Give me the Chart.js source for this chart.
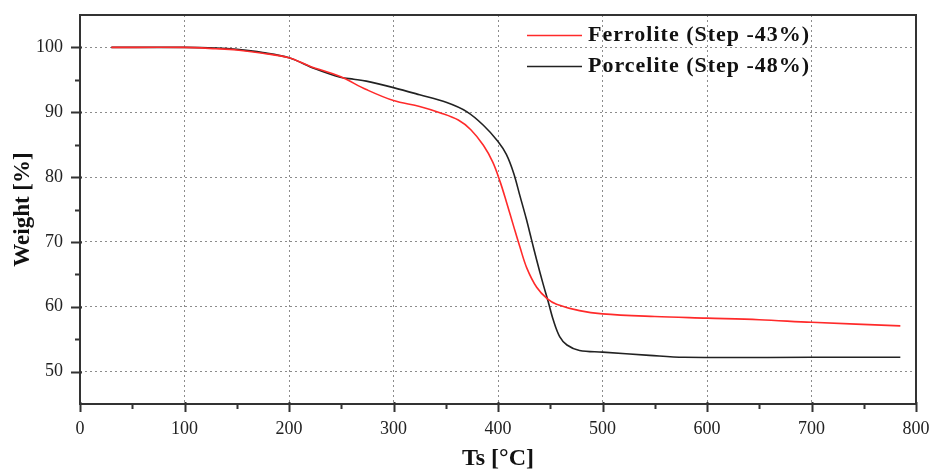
<!DOCTYPE html>
<html>
<head>
<meta charset="utf-8">
<script src="https://cdn.jsdelivr.net/npm/chart.js@4/dist/chart.umd.min.js"></script>
<style>
  html, body { margin: 0; padding: 0; background: #fff; }
  #wrap { width: 933px; height: 473px; position: relative; }
</style>
</head>
<body>
<div id="wrap"><canvas id="tgaChart"></canvas></div>
<script>
// temperature (°C) and weight (%)
const ferroliteTemp = [30, 100, 130, 150, 175, 200, 220, 249, 274, 300, 325, 345, 362, 374, 386, 395, 402, 408, 415, 421, 427.5, 437, 447, 456, 478, 500, 550, 600, 650, 700, 785];
const ferroliteWeight = [100, 100, 99.8, 99.6, 99.1, 98.4, 97.1, 95.5, 93.5, 91.8, 90.9, 89.9, 88.8, 87.3, 84.9, 82.3, 79.3, 76.2, 72.4, 69.2, 66.0, 63.0, 61.25, 60.4, 59.4, 58.9, 58.5, 58.25, 58.0, 57.6, 57.05];

const porceliteTemp = [30, 100, 130, 150, 175, 200, 225, 249, 262, 274, 300, 325, 351, 370, 386, 400, 408, 415, 421, 427, 432, 437, 443, 448, 453, 459, 466, 478, 500, 545, 578, 700, 785];
const porceliteWeight = [100, 100, 99.9, 99.7, 99.2, 98.4, 96.7, 95.4, 95.1, 94.8, 93.8, 92.7, 91.5, 90.1, 88.0, 85.5, 83.5, 80.6, 77.1, 73.6, 70.4, 67.2, 63.6, 60.8, 57.9, 55.4, 54.1, 53.25, 53.0, 52.5, 52.2, 52.2, 52.2];

const seriesLabels = ['Ferrolite (Step -43%)', 'Porcelite (Step -48%)'];
const seriesColors = ['#ff2a2a', '#222222'];

const xTicks = [0, 100, 200, 300, 400, 500, 600, 700, 800];
const xMinorTicks = [50, 150, 250, 350, 450, 550, 650, 750];
const yTicks = [50, 60, 70, 80, 90, 100];
const yMinorTicks = [55, 65, 75, 85, 95];

const serif = "'Liberation Serif', 'DejaVu Serif', serif";

function toPoints(xs, ys) {
    return xs.map((x, i) => ({ x: x, y: ys[i] }));
}

// no extra room for overflowing tick labels, the layout padding decides the plot box
function noLabelPadding(scale) {
    scale.paddingTop = 0;
    scale.paddingBottom = 0;
    scale.paddingLeft = 0;
    scale.paddingRight = 0;
}

// border, minor/major tick marks and the legend are drawn on top of the chart area
const framePlugin = {
    id: 'frame',
    afterDraw(chart) {
        const ctx = chart.ctx;
        const area = chart.chartArea;
        const xs = chart.scales.x;
        const ys = chart.scales.y;
        ctx.save();
        ctx.strokeStyle = '#333';
        ctx.lineWidth = 2;
        ctx.strokeRect(area.left, area.top, area.right - area.left, area.bottom - area.top);

        ctx.beginPath();
        xTicks.forEach(v => {
            const px = Math.round(xs.getPixelForValue(v)) + 0.5;
            ctx.moveTo(px, area.bottom - 2);
            ctx.lineTo(px, area.bottom + 8);
        });
        xMinorTicks.forEach(v => {
            const px = Math.round(xs.getPixelForValue(v)) + 0.5;
            ctx.moveTo(px, area.bottom);
            ctx.lineTo(px, area.bottom + 5);
        });
        yTicks.forEach(v => {
            const py = Math.round(ys.getPixelForValue(v)) + 0.5;
            ctx.moveTo(area.left + 2, py);
            ctx.lineTo(area.left - 9, py);
        });
        yMinorTicks.forEach(v => {
            const py = Math.round(ys.getPixelForValue(v)) + 0.5;
            ctx.moveTo(area.left, py);
            ctx.lineTo(area.left - 5, py);
        });
        ctx.stroke();

        // legend
        ctx.font = 'bold 22px ' + serif;
        ctx.letterSpacing = '1px';
        ctx.textBaseline = 'middle';
        ctx.textAlign = 'left';
        chart.data.datasets.forEach((ds, i) => {
            const y = 35 + i * 31;
            ctx.strokeStyle = ds.borderColor;
            ctx.lineWidth = 1.5;
            ctx.beginPath();
            ctx.moveTo(527, y + 0.5);
            ctx.lineTo(582, y + 0.5);
            ctx.stroke();
            ctx.fillStyle = '#111';
            ctx.fillText(ds.label, 588, y);
        });
        ctx.restore();
    }
};

const gridStyle = {
    color: '#8c8c8c',
    lineWidth: 1,
    drawTicks: false
};
const dotted = { display: false, dash: [2, 3] };

new Chart(document.getElementById('tgaChart'), {
    type: 'line',
    data: {
        datasets: [
            {
                label: seriesLabels[0],
                data: toPoints(ferroliteTemp, ferroliteWeight),
                borderColor: seriesColors[0],
                borderWidth: 1.6,
                pointRadius: 0,
                tension: 0.35,
                fill: false
            },
            {
                label: seriesLabels[1],
                data: toPoints(porceliteTemp, porceliteWeight),
                borderColor: seriesColors[1],
                borderWidth: 1.6,
                pointRadius: 0,
                tension: 0.35,
                fill: false
            }
        ]
    },
    options: {
        responsive: true,
        maintainAspectRatio: false,
        animation: false,
        layout: { padding: { top: 15, right: 17, left: 0, bottom: 0 } },
        plugins: {
            legend: { display: false },
            tooltip: { enabled: false }
        },
        scales: {
            x: {
                type: 'linear',
                min: 0,
                max: 800,
                afterBuildTicks: scale => { scale.ticks = xTicks.map(v => ({ value: v })); },
                afterFit: scale => { scale.height = 69; noLabelPadding(scale); },
                border: dotted,
                grid: gridStyle,
                ticks: {
                    padding: 14,
                    color: '#222',
                    font: { family: serif, size: 18 },
                    maxRotation: 0
                },
                title: {
                    display: true,
                    text: 'Ts [°C]',
                    color: '#111',
                    font: { family: serif, size: 24, weight: 'bold' },
                    padding: { top: 5, bottom: 0 }
                }
            },
            y: {
                type: 'linear',
                min: 45,
                max: 105,
                afterBuildTicks: scale => { scale.ticks = yTicks.map(v => ({ value: v })); },
                afterFit: scale => { scale.width = 80; noLabelPadding(scale); },
                border: dotted,
                grid: gridStyle,
                ticks: {
                    padding: 17,
                    color: '#222',
                    font: { family: serif, size: 18 }
                },
                title: {
                    display: true,
                    text: 'Weight [%]',
                    color: '#111',
                    font: { family: serif, size: 23, weight: 'bold' },
                    padding: { top: 9, bottom: 0 }
                }
            }
        }
    },
    plugins: [framePlugin]
});
</script>
</body>
</html>
